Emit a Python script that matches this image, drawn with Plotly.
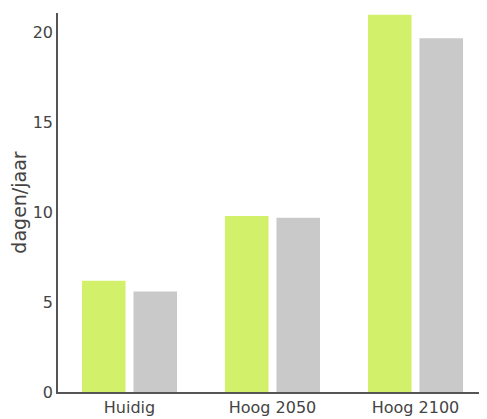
import plotly.graph_objects as go

categories = ["Huidig", "Hoog 2050", "Hoog 2100"]
series_a = [6.2, 9.8, 21.0]
series_b = [5.6, 9.7, 19.7]
y_ticks = [0, 5, 10, 15, 20]
y_title = "dagen/jaar"

fig = go.Figure()
fig.add_trace(go.Bar(x=categories, y=series_a, marker=dict(color="#d3f06b", line=dict(width=0)), showlegend=False))
fig.add_trace(go.Bar(x=categories, y=series_b, marker=dict(color="#c9c9c9", line=dict(width=0)), showlegend=False))

# page body has an 8px default margin; figure sized/offset to compensate
fig.update_layout(
    width=479, height=411,
    margin=dict(l=50, r=0, t=5, b=27),
    barmode="group", bargap=0.28, bargroupgap=0.154,
    plot_bgcolor="white", paper_bgcolor="white",
    font=dict(family="DejaVu Sans", size=16, color="#444"),
)
fig.update_xaxes(showline=True, linecolor="#555", linewidth=1.5, showgrid=False,
                 ticks="", tickfont=dict(size=16, color="#444"))
fig.update_yaxes(range=[0, 21.1], tickvals=y_ticks, showline=True, linecolor="#555", linewidth=1.5,
                 showgrid=False, zeroline=False, ticks="", tickfont=dict(size=16, color="#444"),
                 title=dict(text=y_title, font=dict(size=19, color="#444"), standoff=8))

fig.write_html("out.html")
